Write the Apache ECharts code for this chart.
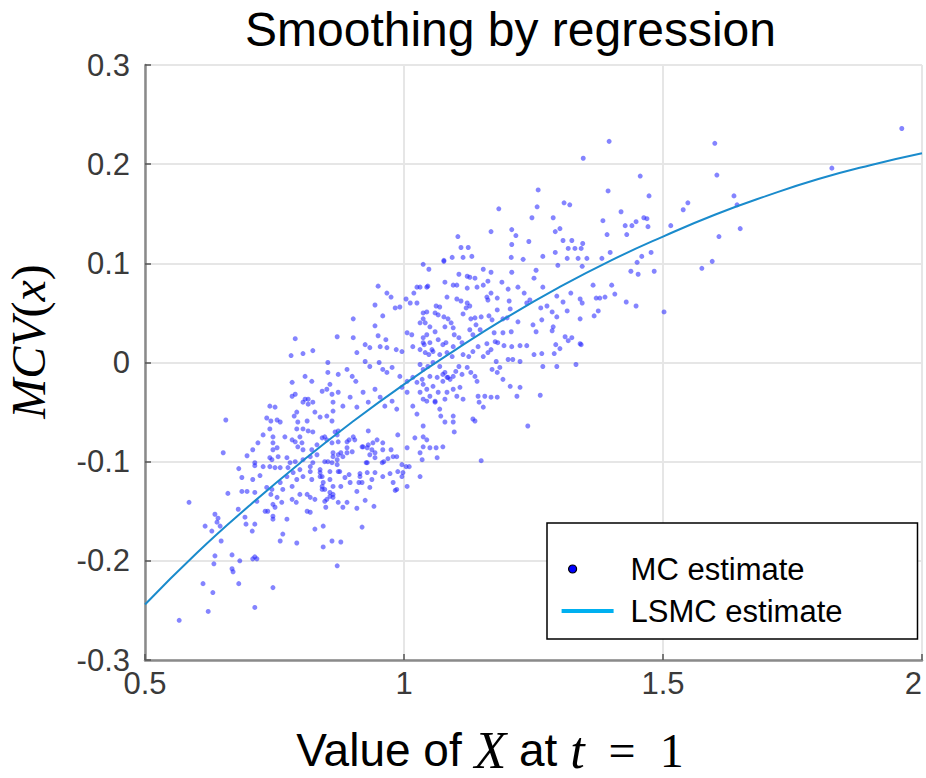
<!DOCTYPE html>
<html><head><meta charset="utf-8">
<script src="https://cdn.jsdelivr.net/npm/echarts@6/dist/echarts.min.js"></script>
<style>html,body{margin:0;padding:0;background:#fff}#c{width:926px;height:778px}</style>
</head><body><div id="c"></div>
<script>
const titleText = 'Smoothing by regression';
const seriesNames = ['MC estimate', 'LSMC estimate'];
const xTicks = [0.5, 1, 1.5, 2];
const yTicks = [-0.3, -0.2, -0.1, 0, 0.1, 0.2, 0.3];

// LSMC regression curve
const lsmcX = [0.5, 0.6, 0.7, 0.8, 0.9, 1.0, 1.1, 1.2, 1.3, 1.4, 1.5, 1.6, 1.7, 1.8, 1.9, 2.0];
const lsmcY = [-0.244, -0.192, -0.145, -0.101, -0.060, -0.022, 0.013, 0.046, 0.076, 0.103, 0.127, 0.149, 0.168, 0.185, 0.199, 0.211];

// MC estimate points [x, y]
const mcPoints = [
[1.396,0.223],[1.60,0.221],[1.961,0.236],[1.826,0.196],[1.456,0.188],[1.604,0.189],[1.394,0.173],[1.473,0.168],[1.637,0.168],[1.548,0.161],[1.539,0.154],[1.643,0.159],[1.419,0.152],[1.384,0.143],[1.463,0.146],[1.469,0.145],[1.448,0.142],[1.440,0.138],[1.427,0.138],[1.471,0.137],[1.515,0.138],[1.392,0.129],[1.430,0.129],[1.608,0.127],[1.649,0.135],[1.398,0.111],[1.477,0.111],[1.459,0.107],[1.382,0.105],[1.450,0.101],[1.595,0.102],[1.575,0.095],[1.438,0.092],[1.452,0.089],[1.483,0.092],[1.401,0.078],[1.407,0.069],[1.388,0.066],[1.378,0.065],[1.429,0.061],[1.448,0.057],[1.502,0.051],
[1.365,0.078],[1.322,0.070],[1.371,0.065],[1.340,0.064],[1.344,0.060],[1.307,0.061],[1.315,0.052],[1.375,0.052],[1.367,0.047],[1.340,0.044],[1.311,0.026],[1.317,0.022],[1.324,0.025],[1.342,0.018],[1.301,0.014],[1.332,-0.002],[1.346,0.206],
[1.259,0.174],[1.257,0.157],[1.183,0.155],[1.309,0.161],[1.320,0.159],[1.247,0.146],[1.288,0.146],[1.208,0.134],[1.168,0.132],[1.292,0.132],[1.301,0.135],[1.216,0.128],[1.104,0.127],[1.241,0.122],[1.307,0.123],[1.324,0.123],[1.345,0.120],[1.208,0.119],[1.110,0.116],[1.124,0.116],[1.317,0.115],[1.330,0.115],[1.342,0.115],[1.292,0.111],[1.093,0.106],[1.114,0.106],[1.131,0.107],[1.077,0.103],[1.207,0.106],[1.230,0.104],[1.268,0.107],[1.315,0.105],[1.336,0.105],[1.353,0.105],[1.048,0.094],[1.297,0.098],[1.344,0.097],[1.255,0.093],[1.106,0.089],[1.137,0.085],[1.127,0.086],[1.122,0.087],[1.153,0.094],[1.168,0.091],[1.208,0.091],[1.079,0.081],[1.095,0.078],[1.102,0.078],[1.162,0.082],[1.189,0.081],[1.251,0.085],[1.044,0.076],[1.031,0.076],[1.122,0.075],[1.141,0.076],[1.153,0.078],[1.201,0.074],[1.220,0.076],[1.232,0.070],[1.268,0.076],[1.295,0.067],[1.083,0.066],[1.102,0.064],[1.160,0.066],[1.168,0.070],[1.162,0.063],[1.180,0.065],[1.203,0.062],[1.243,0.063],[1.237,0.060],[1.110,0.062],[1.122,0.060],[1.127,0.057],[1.120,0.055],[1.062,0.057],[1.069,0.056],[1.264,0.055],[1.276,0.057],[1.180,0.053],[1.205,0.054],[1.286,0.051],[1.295,0.046],[1.037,0.050],[1.044,0.051],[1.060,0.050],[1.031,0.040],[1.037,0.044],[1.066,0.048],[1.077,0.046],[1.085,0.044],[1.091,0.040],[1.114,0.049],[1.129,0.044],[1.137,0.045],[1.149,0.046],[1.164,0.047],[1.170,0.043],[1.191,0.044],[1.199,0.045],[1.220,0.041],[1.249,0.038],[1.255,0.031],[1.266,0.043],[1.288,0.036],[1.286,0.032],[1.050,0.036],[1.060,0.031],[1.044,0.028],[1.079,0.036],[1.095,0.035],[1.097,0.028],[1.127,0.033],[1.139,0.038],[1.147,0.033],[1.133,0.028],[1.174,0.030],[1.191,0.030],[1.207,0.031],[1.340,0.019],[1.037,0.025],[1.050,0.020],[1.039,0.018],[1.066,0.023],[1.075,0.018],[1.081,0.020],[1.106,0.025],[1.112,0.020],[1.095,0.016],[1.143,0.016],[1.160,0.019],[1.168,0.013],[1.176,0.021],[1.181,0.020],[1.193,0.017],[1.208,0.016],[1.224,0.017],[1.237,0.017],[1.251,0.008],[1.266,0.009],[1.293,0.018],[1.290,0.009],[1.031,0.013],[1.041,0.010],[1.048,0.008],[1.056,0.011],[1.069,0.008],[1.083,0.010],[1.093,0.006],[1.114,0.008],[1.125,0.006],[1.133,0.011],[1.153,0.006],[1.162,0.010],[1.201,0.003],[1.210,0.003],[1.224,0.001],[1.178,0.001],[1.268,-0.004],[1.295,-0.004],[1.031,-0.002],[1.037,-0.007],[1.046,-0.004],[1.056,0.000],[1.069,-0.004],[1.079,-0.010],[1.083,-0.015],[1.075,-0.019],[1.089,-0.017],[1.095,-0.014],[1.100,-0.009],[1.106,-0.004],[1.112,-0.012],[1.122,-0.005],[1.129,-0.010],[1.137,-0.014],[1.141,-0.019],[1.170,-0.007],[1.185,-0.005],[1.180,-0.010],[1.191,-0.017],[1.205,-0.024],[1.224,-0.025],[1.218,-0.034],[1.263,-0.033],[1.156,-0.034],[1.180,-0.035],[1.168,-0.035],[1.114,-0.037],[1.143,-0.034],[1.145,-0.040],[1.153,-0.045],[1.056,-0.024],[1.066,-0.030],[1.050,-0.034],[1.044,-0.039],[1.060,-0.039],[1.079,-0.037],[1.095,-0.027],[1.108,-0.025],[1.102,-0.034],[1.031,-0.030],[1.037,-0.022],[1.071,-0.054],[1.079,-0.060],[1.095,-0.060],[1.095,-0.054],[1.133,-0.057],[1.137,-0.059],[1.097,-0.070],[1.037,-0.064],[1.037,-0.075],[1.044,-0.078],[1.062,-0.086],[1.037,-0.085],[1.035,-0.098],[1.031,-0.115],[1.149,-0.099],[1.239,-0.064],
[1.010,-0.105],[1.004,-0.105],[0.996,-0.103],[0.996,-0.115],[0.988,-0.110],[0.983,-0.129],[0.973,-0.112],[0.986,-0.095],[0.969,-0.097],[0.975,-0.088],[0.958,-0.101],[0.961,-0.100],[0.944,-0.111],[0.929,-0.111],[0.915,-0.112],[0.944,-0.096],[0.934,-0.093],[0.929,-0.101],[0.921,-0.085],[0.931,-0.083],[0.940,-0.081],[0.959,-0.081],[0.913,-0.121],[0.919,-0.121],[0.925,-0.139],[0.942,-0.145],[0.909,-0.147],[0.919,-0.166],[0.890,-0.141],[0.882,-0.146],[0.873,-0.141],[0.878,-0.125],[0.863,-0.125],[0.857,-0.131],[0.863,-0.136],[0.851,-0.138],[0.847,-0.140],[0.849,-0.146],[0.842,-0.125],[0.844,-0.165],[0.861,-0.180],[0.878,-0.181],[0.844,-0.186],[0.871,-0.205],[0.873,-0.110],[0.857,-0.110],[0.842,-0.115],[0.886,-0.116],[0.894,-0.113],[0.878,-0.091],[0.890,-0.091],[0.882,-0.095],[0.863,-0.095],[0.853,-0.100],[0.871,-0.103],[0.890,-0.086],[0.900,-0.090],[0.905,-0.078],[0.894,-0.078],[0.927,-0.101],[0.929,-0.086],[0.938,-0.088],[0.944,-0.091],[0.838,-0.108],[0.838,-0.111],[0.842,-0.128],
[0.784,-0.020],[0.822,-0.019],[0.790,-0.032],[0.805,-0.040],[0.815,-0.037],[0.824,-0.040],[0.842,-0.029],[0.851,-0.027],[0.861,-0.032],[0.857,-0.022],[0.741,-0.044],[0.656,-0.058],[0.735,-0.056],[0.743,-0.059],[0.755,-0.058],[0.788,-0.054],[0.795,-0.060],[0.805,-0.067],[0.813,-0.059],[0.828,-0.050],[0.838,-0.055],[0.851,-0.054],[0.863,-0.049],[0.861,-0.059],[0.747,-0.075],[0.747,-0.081],[0.755,-0.086],[0.784,-0.078],[0.790,-0.080],[0.799,-0.075],[0.795,-0.085],[0.805,-0.088],[0.824,-0.070],[0.832,-0.083],[0.842,-0.076],[0.851,-0.078],[0.867,-0.070],[0.651,-0.091],[0.697,-0.094],[0.745,-0.098],[0.757,-0.095],[0.774,-0.096],[0.790,-0.100],[0.805,-0.098],[0.819,-0.095],[0.824,-0.101],[0.847,-0.100],[0.861,-0.101],[0.871,-0.098],[0.873,-0.093],[0.681,-0.107],[0.687,-0.116],[0.712,-0.104],[0.722,-0.114],[0.708,-0.118],[0.741,-0.105],[0.751,-0.106],[0.761,-0.106],[0.776,-0.106],[0.774,-0.115],[0.786,-0.111],[0.793,-0.118],[0.784,-0.125],[0.805,-0.115],[0.819,-0.110],[0.822,-0.118],[0.838,-0.115],[0.844,-0.121],[0.857,-0.135],[0.660,-0.132],[0.687,-0.130],[0.697,-0.130],[0.712,-0.131],[0.716,-0.140],[0.735,-0.126],[0.745,-0.128],[0.743,-0.133],[0.761,-0.121],[0.766,-0.128],[0.755,-0.136],[0.764,-0.141],[0.784,-0.138],[0.792,-0.141],[0.799,-0.133],[0.813,-0.133],[0.819,-0.136],[0.828,-0.138],[0.585,-0.141],[0.635,-0.153],[0.641,-0.157],[0.645,-0.165],[0.629,-0.170],[0.616,-0.165],[0.639,-0.161],[0.680,-0.148],[0.693,-0.156],[0.695,-0.163],[0.712,-0.163],[0.707,-0.170],[0.732,-0.150],[0.737,-0.150],[0.747,-0.143],[0.751,-0.146],[0.747,-0.155],[0.747,-0.158],[0.774,-0.158],[0.766,-0.173],[0.793,-0.182],[0.761,-0.180],[0.813,-0.150],[0.819,-0.151],[0.828,-0.168],[0.647,-0.180],[0.635,-0.195],[0.633,-0.203],[0.668,-0.194],[0.670,-0.211],[0.668,-0.208],[0.683,-0.200],[0.681,-0.223],[0.712,-0.196],[0.708,-0.198],[0.716,-0.198],[0.612,-0.223],[0.631,-0.232],[0.747,-0.227],[0.712,-0.247],[0.622,-0.251],[0.566,-0.260],[0.873,-0.080],[0.871,-0.073],[0.863,-0.091],
[1.037,0.099],[1.077,0.102],[0.950,0.077],[0.967,0.070],[0.975,0.066],[1.019,0.070],[1.025,0.076],[1.046,0.077],[0.944,0.058],[0.959,0.047],[0.983,0.055],[0.992,0.056],[1.004,0.064],[1.012,0.060],[1.025,0.060],[0.902,0.044],[0.944,0.037],[0.950,0.027],[0.965,0.023],[1.006,0.030],[1.015,0.028],[1.041,0.040],[0.790,0.024],[0.871,0.026],[0.902,0.025],[0.925,0.018],[0.934,0.015],[0.782,0.007],[0.805,0.009],[0.824,0.012],[0.853,0.000],[0.909,0.010],[0.954,0.016],[0.967,0.015],[0.985,0.013],[0.996,0.011],[1.017,0.016],[1.037,0.020],[1.054,0.013],[0.809,-0.014],[0.853,-0.010],[0.873,-0.012],[0.890,-0.007],[0.900,-0.014],[0.907,-0.019],[0.925,0.001],[0.934,-0.004],[0.952,0.000],[0.959,-0.007],[0.967,-0.010],[0.977,-0.005],[0.992,-0.014],[1.006,-0.019],[1.017,-0.015],[1.025,-0.020],[1.035,-0.017],[1.050,-0.014],[1.064,-0.015],[1.075,-0.012],[1.085,-0.015],[0.751,-0.045],[0.784,-0.034],[0.793,-0.050],[0.809,-0.037],[0.815,-0.042],[0.863,-0.040],[0.873,-0.030],[0.882,-0.044],[0.896,-0.035],[0.909,-0.045],[0.921,-0.030],[0.931,-0.040],[0.944,-0.027],[0.954,-0.035],[0.963,-0.044],[0.977,-0.039],[0.986,-0.047],[0.996,-0.025],[1.006,-0.030],[1.017,-0.044],[1.025,-0.052],[1.037,-0.037],[1.044,-0.027],[1.060,-0.040],[1.069,-0.047],[1.083,-0.030],[0.728,-0.073],[0.718,-0.081],[0.741,-0.067],[0.747,-0.088],[0.708,-0.088],[0.712,-0.101],[0.728,-0.105],[0.741,-0.096],[0.761,-0.060],[0.770,-0.075],[0.793,-0.067],[0.803,-0.081],[0.815,-0.069],[0.822,-0.088],[0.832,-0.093],[0.847,-0.075],[0.861,-0.081],[0.873,-0.069],[0.890,-0.080],[0.902,-0.075],[0.919,-0.085],[0.931,-0.069],[0.948,-0.078],[0.959,-0.088],[0.979,-0.095],[0.988,-0.073],[1.006,-0.086],[1.021,-0.076],[1.031,-0.091],[1.050,-0.086],[1.064,-0.096],[1.075,-0.085],[0.780,-0.101],[0.799,-0.108],[0.819,-0.105],[0.857,-0.118],[0.876,-0.110],[0.896,-0.121],[0.915,-0.115],[0.938,-0.118],[0.959,-0.115],[0.979,-0.121],[0.998,-0.111],[0.847,-0.128],[0.863,-0.133],[0.909,-0.130],[0.934,-0.126],[0.986,-0.128],[1.006,-0.125]
];

const chart = echarts.init(document.getElementById('c'), null, {renderer: 'svg'});
const sans = 'Liberation Sans, Arial, sans-serif';
const serif = 'Liberation Serif, Times New Roman, serif';
const option = {
  animation: false,
  backgroundColor: '#ffffff',
  title: {
    text: titleText, left: 240, top: 0,
    textStyle: {fontFamily: sans, fontSize: 48, fontWeight: 'normal', color: '#000'}
  },
  grid: {left: 145, right: 4, top: 65, bottom: 118, outerBoundsMode: 'none', containLabel: false},
  xAxis: {
    type: 'value', min: xTicks[0], max: xTicks[xTicks.length - 1], interval: xTicks[1] - xTicks[0],
    name: '{s|Value of }{m|X}{s| at }{m|t}{r|  =  1}',
    nameLocation: 'middle', nameGap: 64,
    nameTextStyle: {
      color: '#000', padding: [0, 87, 0, 0],
      rich: {
        s: {fontFamily: sans, fontSize: 46, color: '#000'},
        m: {fontFamily: serif, fontStyle: 'italic', fontSize: 52, color: '#000'},
        r: {fontFamily: serif, fontSize: 48, color: '#000'}
      }
    },
    axisLine: {show: true, onZero: false, lineStyle: {color: '#8a8a8a', width: 2.5}},
    axisTick: {show: true, inside: true, length: 6, lineStyle: {color: '#555', width: 1.5}},
    axisLabel: {fontFamily: sans, fontSize: 31, color: '#3a3a3a', margin: 8, alignMaxLabel: 'right'},
    splitLine: {show: true, lineStyle: {color: '#e6e6e6', width: 2}}
  },
  yAxis: {
    type: 'value', min: yTicks[0], max: yTicks[yTicks.length - 1], interval: 0.1,
    name: '{m|MCV}{n|(}{m|x}{n|)}',
    nameLocation: 'middle', nameRotate: 90, nameGap: 93,
    nameTextStyle: {
      color: '#000', padding: [0, 0, 0, 42],
      rich: {
        m: {fontFamily: serif, fontStyle: 'italic', fontSize: 48, color: '#000'},
        n: {fontFamily: serif, fontSize: 48, color: '#000'}
      }
    },
    axisLine: {show: true, onZero: false, lineStyle: {color: '#8a8a8a', width: 2.5}},
    axisTick: {show: true, inside: true, length: 6, lineStyle: {color: '#555', width: 1.5}},
    axisLabel: {fontFamily: sans, fontSize: 31, color: '#3a3a3a', margin: 15},
    splitLine: {show: true, lineStyle: {color: '#e6e6e6', width: 2}}
  },
  legend: {
    orient: 'vertical', left: 547, top: 523,
    backgroundColor: '#fff', borderColor: '#000', borderWidth: 1.5, borderRadius: 0,
    padding: [29, 75, 11, 14],
    itemWidth: 52, itemHeight: 8, itemGap: 8,
    textStyle: {fontFamily: sans, fontSize: 31, color: '#000', lineHeight: 34, padding: [0, 0, 0, 12]},
    data: [
      {name: seriesNames[0], icon: 'path://M0,4L0,4ZM52,4L52,4ZM7,4A4,4,0,1,1,15,4A4,4,0,1,1,7,4Z',
       itemStyle: {color: '#0000ff', borderColor: '#000', borderWidth: 1.2, opacity: 1}},
      {name: seriesNames[1], icon: 'path://M0,2H52V6H0Z',
       itemStyle: {color: '#00b0f0', borderWidth: 0, opacity: 1}}
    ]
  },
  series: [
    {
      name: seriesNames[0], type: 'scatter', data: mcPoints, symbol: 'circle', symbolSize: 5,
      itemStyle: {color: 'rgba(35,35,255,0.7)'}, z: 2
    },
    {
      name: seriesNames[1], type: 'line', data: lsmcX.map((x, i) => [x, lsmcY[i]]),
      smooth: true, symbol: 'none', showSymbol: false,
      lineStyle: {color: '#1a8bcc', width: 2}, itemStyle: {color: '#1a8bcc'}, z: 3
    }
  ]
};
chart.setOption(option);
</script></body></html>
